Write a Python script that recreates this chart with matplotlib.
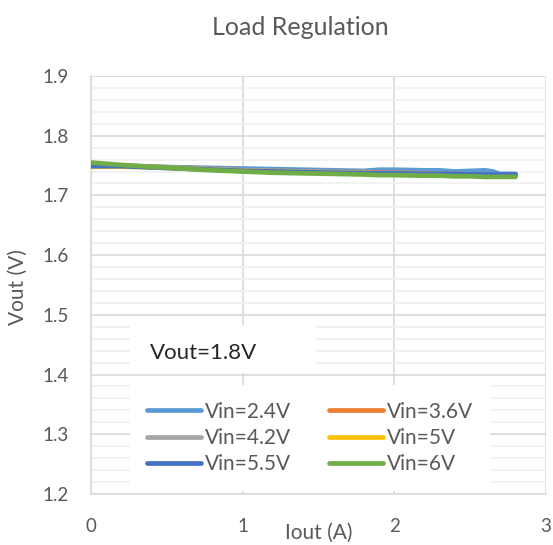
import matplotlib
matplotlib.use("Agg")
import matplotlib.pyplot as plt
from matplotlib.patches import Rectangle
from matplotlib.ticker import MultipleLocator, FormatStrFormatter

plt.rcParams['font.family'] = ['Lato', 'DejaVu Sans']

iout = [0.0, 0.2, 0.4, 0.6, 0.8, 1.0, 1.2, 1.4, 1.6, 1.8, 1.9, 2.0, 2.2, 2.3, 2.4, 2.5, 2.6, 2.65, 2.7, 2.8]

vin_24 = [1.750, 1.749, 1.748, 1.747, 1.746, 1.745, 1.744, 1.743, 1.742, 1.741, 1.743, 1.743, 1.742, 1.742, 1.740, 1.741, 1.742, 1.740, 1.736, 1.736]
vin_36 = [1.751, 1.750, 1.748, 1.746, 1.744, 1.742, 1.741, 1.740, 1.739, 1.739, 1.738, 1.738, 1.737, 1.736, 1.736, 1.735, 1.735, 1.734, 1.734, 1.734]
vin_42 = [1.751, 1.750, 1.748, 1.746, 1.744, 1.742, 1.741, 1.740, 1.739, 1.738, 1.737, 1.737, 1.736, 1.735, 1.735, 1.734, 1.734, 1.734, 1.733, 1.733]
vin_5 = [1.748, 1.748, 1.747, 1.745, 1.743, 1.741, 1.740, 1.739, 1.738, 1.737, 1.736, 1.736, 1.735, 1.735, 1.734, 1.734, 1.733, 1.733, 1.733, 1.733]
vin_55 = [1.749, 1.749, 1.747, 1.745, 1.743, 1.741, 1.740, 1.739, 1.738, 1.737, 1.737, 1.737, 1.736, 1.736, 1.736, 1.735, 1.735, 1.735, 1.735, 1.735]
vin_6 = [1.755, 1.751, 1.748, 1.745, 1.742, 1.740, 1.738, 1.737, 1.736, 1.735, 1.734, 1.734, 1.733, 1.733, 1.732, 1.732, 1.731, 1.731, 1.731, 1.731]

series = [
    ('Vin=2.4V', vin_24, '#5B9BD5'),
    ('Vin=3.6V', vin_36, '#ED7D31'),
    ('Vin=4.2V', vin_42, '#A5A5A5'),
    ('Vin=5V', vin_5, '#FFC000'),
    ('Vin=5.5V', vin_55, '#4472C4'),
    ('Vin=6V', vin_6, '#70AD47'),
]

txt = '#595959'

fig = plt.figure(figsize=(5.53, 5.45), dpi=100)
ax = fig.add_axes([0.1646, 0.0936, 0.8224, 0.767])

lines = []
for name, vals, col in series:
    ln, = ax.plot(iout, vals, color=col, lw=3.4, label=name, solid_capstyle='round', zorder=3)
    lines.append(ln)

ax.set_xlim(0, 3)
ax.set_ylim(1.2, 1.9)
ax.xaxis.set_major_locator(MultipleLocator(1))
ax.yaxis.set_major_locator(MultipleLocator(0.1))
ax.yaxis.set_minor_locator(MultipleLocator(0.02))
ax.yaxis.set_major_formatter(FormatStrFormatter('%.1f'))
ax.grid(True, which='major', color='#D9D9D9', lw=1.2, zorder=0)
ax.grid(True, which='minor', axis='y', color='#F0F0F0', lw=1.2, zorder=0)
ax.set_axisbelow(True)

for s in ['top', 'right']:
    ax.spines[s].set_visible(False)
for s in ['left', 'bottom']:
    ax.spines[s].set_color('#D9D9D9')
    ax.spines[s].set_linewidth(1.2)

ax.tick_params(which='both', length=0)
ax.tick_params(axis='y', labelsize=13.5, labelcolor=txt, pad=16)
ax.tick_params(axis='x', labelsize=13.5, labelcolor=txt, pad=17)

ax.set_xlabel('Iout (A)', fontsize=15, color=txt)
ax.xaxis.set_label_coords(0.501, -0.068)
ax.set_ylabel('Vout (V)', fontsize=15, color=txt)
ax.yaxis.set_label_coords(-0.138, 0.496)
fig.text(0.543, 1 - 35 / 545, 'Load Regulation', fontsize=18, color=txt, ha='center', va='baseline')

# text box
ax.add_patch(Rectangle((0.086, 0.289), 0.407, 0.115, transform=ax.transAxes,
                       facecolor='white', edgecolor='none', zorder=2))
ax.text(0.1297, 0.323, 'Vout=1.8V', transform=ax.transAxes, fontsize=16,
        color='#262626', va='baseline', ha='left', zorder=4)

# legend filled row by row like the reference
order = [0, 2, 4, 1, 3, 5]
leg = ax.legend([lines[i] for i in order], [series[i][0] for i in order],
                ncol=2, loc='upper left', bbox_to_anchor=(0.0857, 0.261),
                frameon=True, fancybox=False, facecolor='white', edgecolor='none',
                framealpha=1, fontsize=15, handlelength=2.6, handletextpad=0.2,
                columnspacing=1.8, labelspacing=0.3, borderpad=0.8,
                labelcolor=txt, borderaxespad=0)
for line in leg.get_lines():
    line.set_linewidth(3.4)

fig.savefig('out.png', dpi=100)
